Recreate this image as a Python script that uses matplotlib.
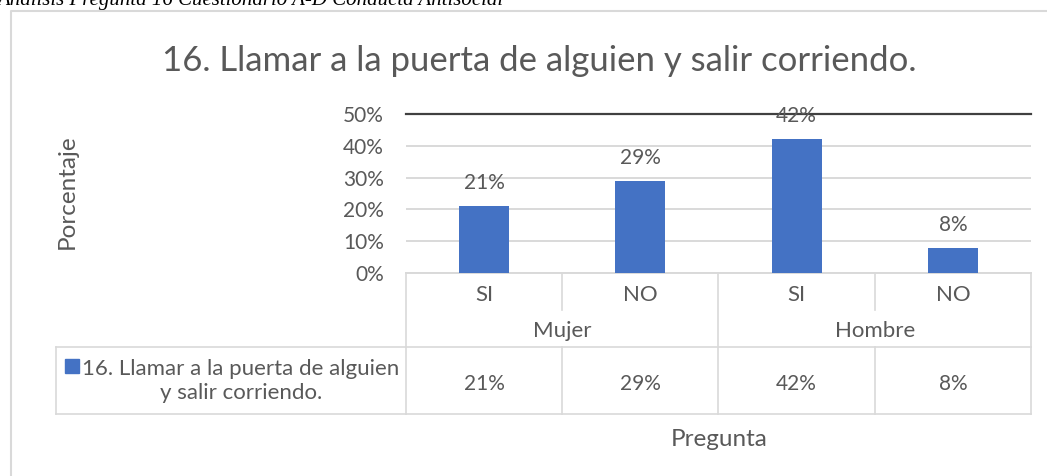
import matplotlib
matplotlib.use("Agg")
import matplotlib.pyplot as plt
from matplotlib.lines import Line2D
from matplotlib.patches import Rectangle
from matplotlib.transforms import blended_transform_factory

# data
groups = ["Mujer", "Hombre"]
answers = ["SI", "NO", "SI", "NO"]
values = [0.21, 0.29, 0.42, 0.08]
series_name = "16. Llamar a la puerta de alguien y salir corriendo."
yticks = [0, 0.1, 0.2, 0.3, 0.4, 0.5]

W, H = 1047, 476
TXT = "#595959"
GRID = "#d9d9d9"
BAR = "#4472c4"

plt.rcParams["font.family"] = ["Lato", "DejaVu Sans"]

fig = plt.figure(figsize=(W / 100, H / 100), dpi=100)


def fy(py):
    # pixel row (from top) -> figure fraction
    return 1 - py / H


def fx(px):
    return px / W


# plot area
left, right, top, bottom = 406, 1031, 114, 273
ax = fig.add_axes((fx(left), fy(bottom), fx(right - left), (bottom - top) / H))
x = list(range(len(values)))
ax.bar(x, values, width=0.32, color=BAR, zorder=3)
ax.set_xlim(-0.5, len(values) - 0.5)
ax.set_ylim(0, 0.5)
ax.set_yticks(yticks)
ax.set_yticklabels([f"{int(round(t * 100))}%" for t in yticks])
ax.tick_params(axis="y", length=0, pad=16, labelsize=15, labelcolor=TXT)
ax.set_xticks([])
ax.grid(axis="y", color=GRID, linewidth=1.4, zorder=0)
for s in ["left", "right"]:
    ax.spines[s].set_visible(False)
ax.spines["top"].set_color("#404040")
ax.spines["top"].set_linewidth(1.6)
ax.spines["bottom"].set_color(GRID)
ax.spines["bottom"].set_linewidth(1.4)

for xi, v in zip(x, values):
    ax.annotate(f"{round(v * 100)}%", (xi, v), xytext=(0, 18), textcoords="offset points",
                ha="center", va="center_baseline", fontsize=15, color=TXT, zorder=4)

# data table under the axis
tr = blended_transform_factory(ax.transData, fig.transFigure)
row1, row2, row3 = 310, 347, 414
lw = 1.2


def vline(xd, y0, y1):
    fig.add_artist(Line2D([xd, xd], [fy(y0), fy(y1)], transform=tr, color=GRID, lw=lw))


def hline(x0, x1, py, trans):
    fig.add_artist(Line2D([x0, x1], [fy(py), fy(py)], transform=trans, color=GRID, lw=lw))


n = len(values)
vline(-0.5, bottom, row3)
vline(n - 0.5, bottom, row3)
for i in range(1, n):
    if i % 2 == 0:
        vline(i - 0.5, bottom, row3)
    else:
        vline(i - 0.5, bottom, row1)
        vline(i - 0.5, row2, row3)

legend_left = 56
fig.add_artist(Line2D([fx(legend_left), fx(legend_left)], [fy(row2), fy(row3)],
                      transform=fig.transFigure, color=GRID, lw=lw))
x_axis_left = ax.transData.transform((-0.5, 0))[0] / W
for py in (row2, row3):
    fig.add_artist(Line2D([fx(legend_left), x_axis_left], [fy(py), fy(py)],
                          transform=fig.transFigure, color=GRID, lw=lw))
    hline(-0.5, n - 0.5, py, tr)

for xi, a, v in zip(x, answers, values):
    fig.text(xi, fy(293), a, transform=tr, ha="center", va="center_baseline",
             fontsize=16, color=TXT)
    fig.text(xi, fy(382), f"{round(v * 100)}%", transform=tr, ha="center",
             va="center_baseline", fontsize=15, color=TXT)
for gi, g in enumerate(groups):
    fig.text(gi * 2 + 0.5, fy(329), g, transform=tr, ha="center", va="center_baseline",
             fontsize=16, color=TXT)

# legend key inside the table
fig.add_artist(Rectangle((fx(65), fy(373)), 14 / W, 14 / H, transform=fig.transFigure,
                         color=BAR))
fig.text(fx(241), fy(381), "16. Llamar a la puerta de alguien\ny salir corriendo.",
         ha="center", va="center", fontsize=16, color=TXT, linespacing=1.2)

# titles
fig.text(fx(539), fy(58), series_name, ha="center", va="center_baseline", fontsize=25,
         color=TXT)
fig.text(fx(67), fy(192), "Porcentaje", ha="center", va="center", rotation=90,
         fontsize=17.5, color=TXT)
fig.text(fx(719), fy(437), "Pregunta", ha="center", va="center_baseline", fontsize=17.5,
         color=TXT)

# chart frame and cropped caption above it
fig.add_artist(Line2D([fx(11), fx(11), 1.0], [0.0, fy(11), fy(11)],
                      transform=fig.transFigure, color=GRID, lw=1.5))
fig.text(fx(-3), fy(5), "Análisis Pregunta 16 Cuestionario A-D Conducta Antisocial",
         ha="left", va="baseline", fontsize=15, fontstyle="italic",
         family="Liberation Serif", color="black")

fig.savefig("out.png", dpi=100)
